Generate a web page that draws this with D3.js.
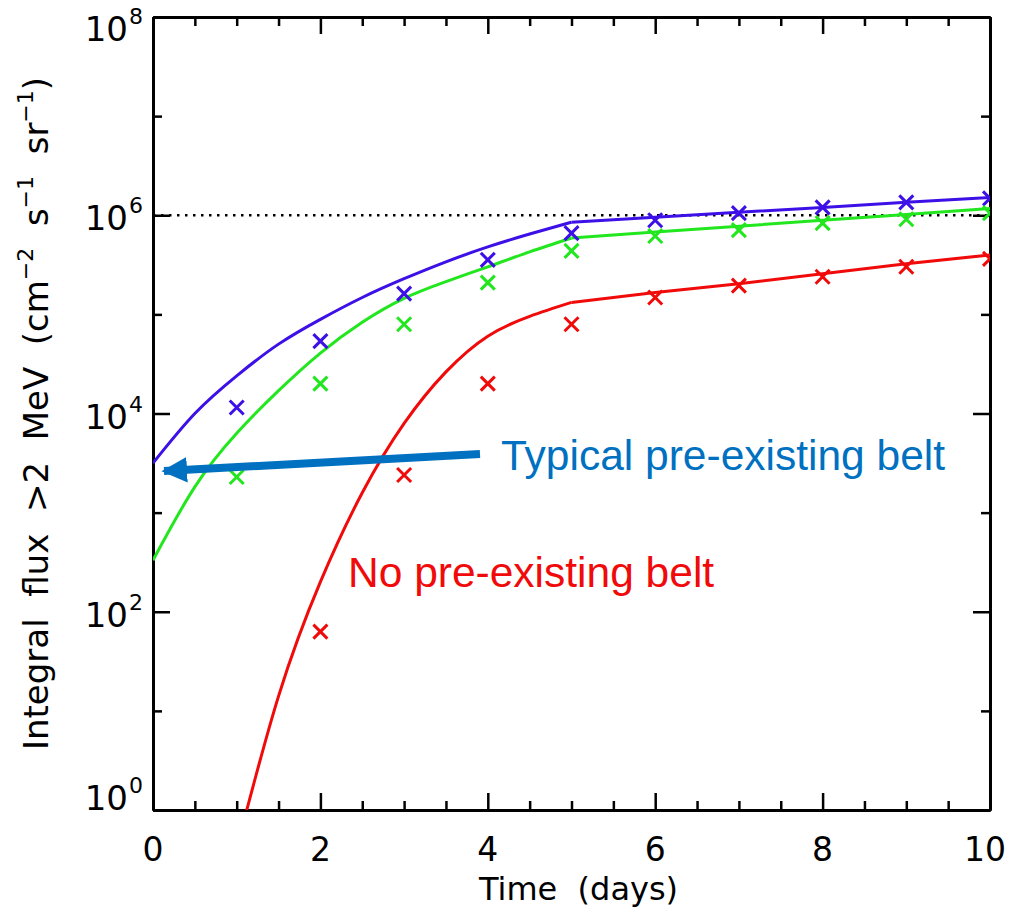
<!DOCTYPE html>
<html>
<head>
<meta charset="utf-8">
<script src="https://cdn.jsdelivr.net/npm/d3@7"></script>
<style>
  html, body { margin: 0; padding: 0; background: #fff; }
  svg { display: block; }
  text { font-family: "DejaVu Sans", sans-serif; }
</style>
</head>
<body>
<div id="chart"></div>
<script>
// Electron flux build-up, >2 MeV, log scale.
var riseDays    = [0, 0.5, 1, 1.5, 2, 2.5, 3, 3.5, 4, 4.5, 5];
var plateauDays = [5, 6, 7, 8, 9, 10];
var markerDays  = [1, 2, 3, 4, 5, 6, 7, 8, 9, 10];

// model curves (cm^-2 s^-1 sr^-1)
var blueRise     = [3160, 10000, 24000, 50100, 89100, 148000, 229000, 339000, 479000, 646000, 851000];
var bluePlateau  = [851000, 955000, 1.07e6, 1.2e6, 1.35e6, 1.51e6];
var greenRise    = [331, 1820, 6310, 17000, 40700, 83200, 145000, 214000, 302000, 427000, 589000];
var greenPlateau = [589000, 676000, 776000, 891000, 1.02e6, 1.17e6];
var redRiseDays  = [1, 1.5, 2, 2.5, 3, 3.5, 4, 4.5, 5];
var redRise      = [0.41, 14.1, 200, 1585, 7940, 26300, 60300, 95500, 132000];
var redPlateau   = [132000, 166000, 204000, 257000, 324000, 398000];

// simulation points (crosses)
var blueMarks   = [11500, 53700, 162000, 355000, 661000, 891000, 1.05e6, 1.2e6, 1.35e6, 1.48e6];
var greenMarks  = [2290, 20000, 79400, 209000, 437000, 617000, 708000, 832000, 912000, 1.05e6];
var redMarkDays = [2, 3, 4, 5, 6, 7, 8, 9, 10];
var redMarks    = [63, 2400, 20000, 79400, 148000, 195000, 240000, 302000, 363000];

var refLevel = 1e6;
var xTicks = [0, 2, 4, 6, 8, 10];
var yDecades = [0, 2, 4, 6, 8];

(function () {
    "use strict";
    var W = 1009, H = 921;
    var m = { left: 153, right: 990, top: 17, bottom: 810 };
    var BLUE = "#3c10e6", GREEN = "#22e61e", RED = "#f00a0a", NOTE = "#0070c0";

    var svg = d3.select("#chart").append("svg").attr("width", W).attr("height", H);

    var x = d3.scaleLinear().domain([0, 10]).range([m.left, m.right]);
    var y = d3.scaleLog().domain([1, 1e8]).range([m.bottom, m.top]);

    svg.append("clipPath").attr("id", "plot").append("rect")
        .attr("x", m.left).attr("y", m.top)
        .attr("width", m.right - m.left).attr("height", m.bottom - m.top);

    // axes: major + minor ticks, drawn inward on all four sides
    var minorX = d3.range(0, 10.01, 0.5).filter(function (d) { return d % 2 !== 0; });
    var minorY = [1e1, 1e3, 1e5, 1e7];
    var majorY = yDecades.map(function (e) { return Math.pow(10, e); });

    function axisGroup(gen, tx, ty) {
        var g = svg.append("g").attr("transform", "translate(" + tx + "," + ty + ")").call(gen);
        g.selectAll("text").remove();
        g.select(".domain").attr("stroke", "#000").attr("stroke-width", 3);
        g.selectAll(".tick line").attr("stroke", "#000").attr("stroke-width", 2.5);
        return g;
    }
    [[d3.axisBottom, 0, m.bottom], [d3.axisTop, 0, m.top]].forEach(function (a) {
        axisGroup(a[0](x).tickValues(xTicks).tickSize(-17).tickSizeOuter(0).tickFormat(""), a[1], a[2]);
        axisGroup(a[0](x).tickValues(minorX).tickSize(-9).tickSizeOuter(0).tickFormat(""), a[1], a[2]);
    });
    [[d3.axisLeft, m.left], [d3.axisRight, m.right]].forEach(function (a) {
        axisGroup(a[0](y).tickValues(majorY).tickSize(-17).tickSizeOuter(0).tickFormat(""), a[1], 0);
        axisGroup(a[0](y).tickValues(minorY).tickSize(-9).tickSizeOuter(0).tickFormat(""), a[1], 0);
    });

    // x tick labels (last one nudged in so it stays on the page)
    svg.selectAll("text.xl").data(xTicks).enter().append("text").attr("class", "xl")
        .attr("x", function (d) { return Math.min(x(d), W - 24); }).attr("y", 861)
        .attr("text-anchor", "middle").style("font-size", "33px")
        .text(function (d) { return d; });

    // y tick labels 10^n, kept inside the frame at the ends
    var yl = svg.selectAll("g.yl").data(yDecades).enter().append("g").attr("class", "yl")
        .attr("transform", function (e) {
            var cy = Math.max(m.top + 12, Math.min(m.bottom - 12, y(Math.pow(10, e)) + 3));
            return "translate(128," + (cy + 12) + ")";
        });
    yl.append("text").attr("text-anchor", "end").style("font-size", "34px").text("10");
    yl.append("text").attr("x", 1).attr("y", -17).style("font-size", "22px")
        .text(function (e) { return e; });

    // axis titles
    svg.append("text").attr("x", x(5) + 7).attr("y", 900).attr("text-anchor", "middle")
        .style("font-size", "32px").style("white-space", "pre").text("Time  (days)");

    var yt = svg.append("text").attr("transform", "translate(48," + ((m.top + m.bottom) / 2) + ") rotate(-90)")
        .attr("text-anchor", "middle").style("font-size", "34px").style("white-space", "pre");
    [["Integral  flux  >2  MeV  (cm", 0], ["\u22122", 1], ["  s", 0], ["\u22121", 1],
     ["  sr", 0], ["\u22121", 1], [")", 0]].forEach(function (p, i, arr) {
        var t = yt.append("tspan").text(p[0]);
        if (p[1]) t.attr("dy", -15).style("font-size", "22px");
        else if (i > 0 && arr[i - 1][1]) t.attr("dy", 15);
    });

    // reference level
    svg.append("line").attr("x1", x(0)).attr("x2", x(10)).attr("y1", y(refLevel)).attr("y2", y(refLevel))
        .attr("stroke", "#000").attr("stroke-width", 2.5).attr("stroke-dasharray", "2.5,5.5");

    // model curves: smooth rise to day 5, then straight plateau
    var plot = svg.append("g").attr("clip-path", "url(#plot)");
    var smooth = d3.line().x(function (d) { return x(d[0]); }).y(function (d) { return y(d[1]); })
        .curve(d3.curveNatural);
    var straight = d3.line().x(function (d) { return x(d[0]); }).y(function (d) { return y(d[1]); });
    function zip(a, b) { return a.map(function (v, i) { return [v, b[i]]; }); }

    [[riseDays, blueRise, bluePlateau, BLUE], [riseDays, greenRise, greenPlateau, GREEN],
     [redRiseDays, redRise, redPlateau, RED]].forEach(function (s) {
        plot.append("path").attr("d", smooth(zip(s[0], s[1])))
            .attr("fill", "none").attr("stroke", s[3]).attr("stroke-width", 3);
        plot.append("path").attr("d", straight(zip(plateauDays, s[2])))
            .attr("fill", "none").attr("stroke", s[3]).attr("stroke-width", 3);
    });

    // crosses
    var r = 7;
    [[markerDays, blueMarks, BLUE], [markerDays, greenMarks, GREEN], [redMarkDays, redMarks, RED]]
        .forEach(function (s) {
            plot.selectAll(null).data(zip(s[0], s[1])).enter().append("path")
                .attr("d", function (d) {
                    var cx = x(d[0]), cy = y(d[1]);
                    return "M" + (cx - r) + "," + (cy - r) + "L" + (cx + r) + "," + (cy + r) +
                        "M" + (cx - r) + "," + (cy + r) + "L" + (cx + r) + "," + (cy - r);
                })
                .attr("stroke", s[2]).attr("stroke-width", 3).attr("fill", "none");
        });

    // annotations
    svg.append("defs").append("marker").attr("id", "head")
        .attr("viewBox", "0 0 10 10").attr("refX", 9).attr("refY", 5)
        .attr("markerWidth", 3.2).attr("markerHeight", 3.2).attr("orient", "auto")
        .attr("markerUnits", "strokeWidth")
        .append("path").attr("d", "M0,0L10,5L0,10Z").attr("fill", NOTE);
    svg.append("line").attr("x1", 480).attr("y1", 454).attr("x2", 164).attr("y2", 471)
        .attr("stroke", NOTE).attr("stroke-width", 8).attr("marker-end", "url(#head)");
    svg.append("text").attr("x", 501).attr("y", 470).style("font-family", "'Liberation Sans', Arial, sans-serif")
        .style("font-size", "42.5px").attr("fill", NOTE).text("Typical pre-existing belt");
    svg.append("text").attr("x", 348).attr("y", 587).style("font-family", "'Liberation Sans', Arial, sans-serif")
        .style("font-size", "42.5px").attr("fill", RED).text("No pre-existing belt");
})();
</script>
</body>
</html>
